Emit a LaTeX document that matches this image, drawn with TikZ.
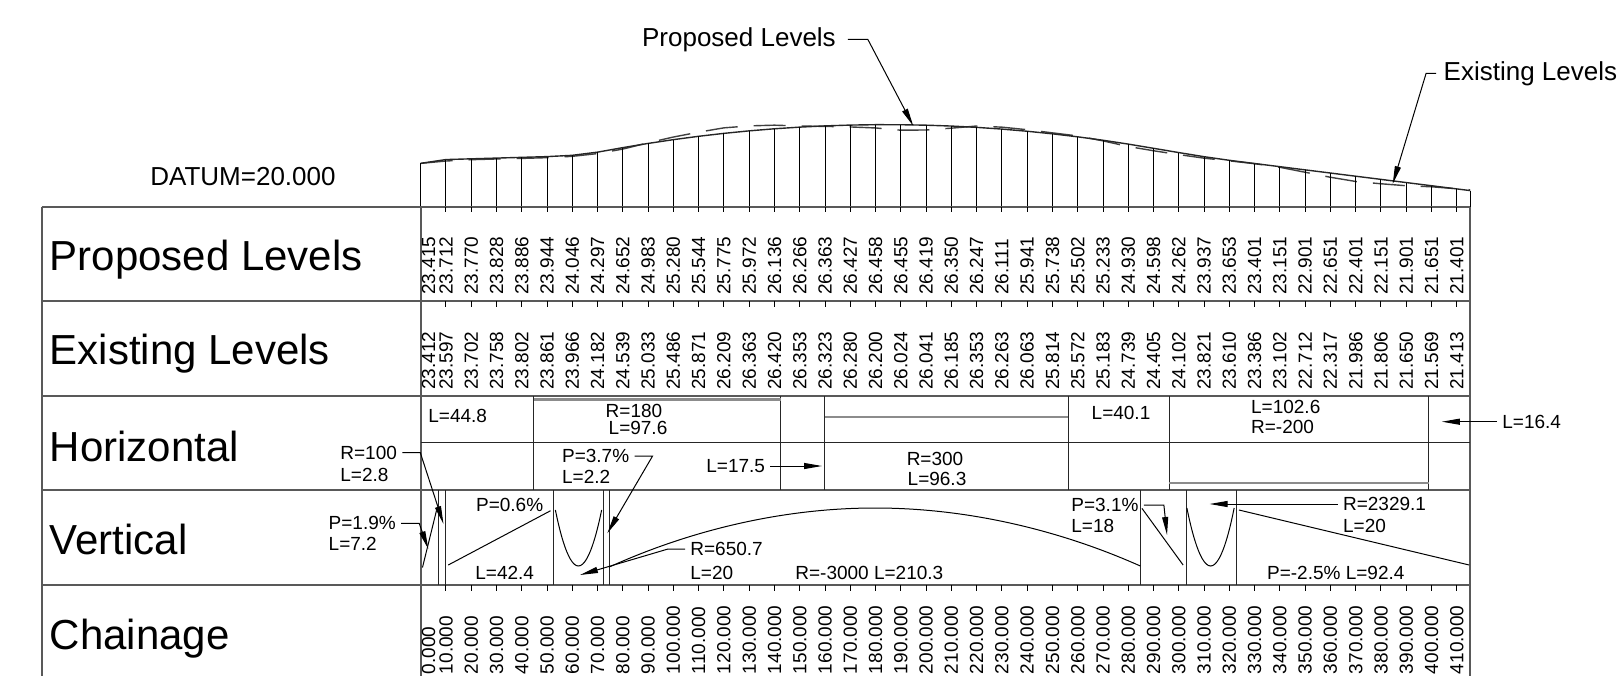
\documentclass[tikz,border=0pt]{standalone}
\usepackage{fontspec}
\setmainfont{Liberation Sans}
\usetikzlibrary{arrows.meta}

\def\proposedlist{23.415,23.712,23.770,23.828,23.886,23.944,24.046,24.297,24.652,24.983,25.280,25.544,25.775,25.972,26.136,26.266,26.363,26.427,26.458,26.455,26.419,26.350,26.247,26.111,25.941,25.738,25.502,25.233,24.930,24.598,24.262,23.937,23.653,23.401,23.151,22.901,22.651,22.401,22.151,21.901,21.651,21.401}
\def\existinglist{23.412,23.597,23.702,23.758,23.802,23.861,23.966,24.182,24.539,25.033,25.486,25.871,26.209,26.363,26.420,26.353,26.323,26.280,26.200,26.024,26.041,26.185,26.353,26.263,26.063,25.814,25.572,25.183,24.739,24.405,24.102,23.821,23.610,23.386,23.102,22.712,22.317,21.986,21.806,21.650,21.569,21.413}

\tikzset{
  band frame/.style={
    draw=black!65,
    line width=1pt,
  },
  band split/.style={
    draw=black!85,
    line width=0.5pt,
  },
  curve edge/.style={
    draw=black!45,
    line width=1.2pt,
  },
  profile line/.style={
    draw=black!85,
    line width=0.7pt,
  },
  ground line/.style={
    draw=black!75,
    line width=0.7pt,
    dash pattern=on 16pt off 8pt,
  },
  station line/.style={
    draw=black,
    line width=0.5pt,
  },
  band title/.style={
    font=\fontsize{21}{25}\selectfont,
    anchor=base west,
    inner sep=0pt
  },
  big note/.style={
    font=\fontsize{13}{15}\selectfont,
    inner sep=0pt
  },
  value text/.style={
    font=\fontsize{9.5}{11}\selectfont,
    rotate=90,
    anchor=west,
    inner sep=0pt
  },
  seg note/.style={
    font=\fontsize{9.5}{11}\selectfont,
    inner sep=0pt
  },
  leader/.style={
    draw,
    line width=0.5pt,
    -{Triangle[length=9pt,width=3pt]}
  },
}

\begin{document}
\begin{tikzpicture}[x=0.5pt, y=-0.5pt]
  \useasboundingbox (0,0) rectangle (1622,675);

  % long section above the datum
  \begin{scope}[shift={(420.7,206.7)}, x=1.2635pt, y=6.35pt, shift={(0,-20)}]
    \draw[ground line] (0,23.412)
      \foreach \lv [count=\i] in {23.597,23.702,23.758,23.802,23.861,23.966,24.182,24.539,25.033,25.486,25.871,26.209,26.363,26.420,26.353,26.323,26.280,26.200,26.024,26.041,26.185,26.353,26.263,26.063,25.814,25.572,25.183,24.739,24.405,24.102,23.821,23.610,23.386,23.102,22.712,22.317,21.986,21.806,21.650,21.569,21.413} { -- (10*\i,\lv) }
      -- (415.3,21.33);
    \draw[profile line] (0,23.415)
      \foreach \lv [count=\i] in {23.712,23.770,23.828,23.886,23.944,24.046,24.297,24.652,24.983,25.280,25.544,25.775,25.972,26.136,26.266,26.363,26.427,26.458,26.455,26.419,26.350,26.247,26.111,25.941,25.738,25.502,25.233,24.930,24.598,24.262,23.937,23.653,23.401,23.151,22.901,22.651,22.401,22.151,21.901,21.651,21.401} { -- (10*\i,\lv) }
      -- (415.3,21.27);
    \foreach \lv [count=\i from 0] in \proposedlist
      \draw[station line] (10*\i,20) -- (10*\i,\lv);
    \draw[station line] (415.3,20) -- (415.3,21.27);
  \end{scope}

  \node[big note] at (243,177) {DATUM=20.000};
  \node[big note, anchor=west] (tprop) at (641.7,39.3) {Proposed Levels};
  \node[big note, anchor=west] (texist) at (1443.3,73.3) {Existing Levels};
  \coordinate (tipprop) at (913.3,126);
  \coordinate (tipexist) at (1392.7,184);
  \draw[leader] ([xshift=5.8pt]tprop.east) -- ++(10pt,0) -- (tipprop);
  \draw[leader] ([xshift=-3.6pt]texist.west) -- ++(-5pt,0) -- (tipexist);

  % band table
  \foreach \yy in {206.7,301,396,490,585}
    \draw[band frame] (41.7,\yy) -- (1470.2,\yy);
  \draw[band frame] (41.7,206.7) -- (41.7,680);
  \draw[band frame] (420.7,206.7) -- (420.7,680);
  \draw[band frame] (1470.2,206.7) -- (1470.2,680);

  \node[band title] at (49.3,270.5) {Proposed Levels};
  \node[band title] at (49.3,364) {Existing Levels};
  \node[band title] at (49.3,461) {Horizontal};
  \node[band title] at (49.3,554) {Vertical};
  \node[band title] at (49.3,649) {Chainage};

  \begin{scope}[shift={(420.7,0)}, x=1.2635pt]
    \foreach \i in {1,...,41}
      \foreach \yy in {206.7,301,585}
        \draw[station line] (10*\i,\yy) -- ++(0,5.5);
    \foreach \lv [count=\i from 0] in \proposedlist {
      \pgfmathsetmacro\cx{\i==0 ? 3.1 : 10*\i}
      \node[value text] (prop\i) at (\cx,295) {\lv};
    }
    \foreach \lv [count=\i from 0] in \existinglist {
      \pgfmathsetmacro\cx{\i==0 ? 3.1 : 10*\i}
      \node[value text] (exist\i) at (\cx,390) {\lv};
    }
    \foreach \i in {0,...,41} {
      \pgfmathtruncatemacro\ch{10*\i}
      \pgfmathsetmacro\cx{\i==0 ? 3.1 : 10*\i}
      \node[value text] (chain\i) at (\cx,674.5) {\ch.000};
    }

    % horizontal alignment
    \draw[band split] (0,442.3) -- (415.3,442.3);
    \foreach \c in {44.8,142.4,159.9,256.2,296.3,398.9}
      \draw[band split] (\c,396) -- (\c,490);
    \draw[curve edge] (44.8,399.5) -- (142.4,399.5);
    \draw[curve edge] (159.9,416.7) -- (256.2,416.7);
    \draw[curve edge] (296.3,482.7) -- (398.9,482.7);

    % vertical alignment
    \foreach \c in {7.2,10,52.4,72.4,74.6,284.9,302.9,322.9}
      \draw[band split] (\c,490) -- (\c,585);
    \draw[station line] (0.7,567.5) -- (6.25,510.5);
    \draw[station line] (10.9,565) -- (51.4,510.7);
    \draw[station line] (53.3,510) parabola bend (62.4,566) (71.6,510);
    \draw[station line] (74.6,567) parabola bend (179.8,508) (284.8,566);
    \draw[station line] (285.4,508.3) -- (301.7,565);
    \draw[station line] (303.2,508) parabola bend (312.6,566) (321.9,508);
    \draw[station line] (323.8,510) -- (414.9,565);
  \end{scope}

  % horizontal labels
  \node[seg note, anchor=west] (h1) at (428,415.7) {L=44.8};
  \node[seg note] (h2r) at (634,410.7) {R=180};
  \node[seg note] (h2l) at (638,428.3) {L=97.6};
  \node[seg note, anchor=west] (h3) at (706,466) {L=17.5};
  \node[seg note] (h4r) at (935,459) {R=300};
  \node[seg note] (h4l) at (937,479) {L=96.3};
  \node[seg note] (h5) at (1121,413.3) {L=40.1};
  \node[seg note, anchor=west] (h6l) at (1250.7,407.3) {L=102.6};
  \node[seg note, anchor=west] (h6r) at (1250.7,426.7) {R=-200};
  \node[seg note, anchor=west] (h7) at (1502,421.7) {L=16.4};
  \coordinate (tiph3) at (822,466);
  \coordinate (tiph7) at (1441.8,421.7);
  \draw[leader] ([xshift=2.5pt]h3.east) -- (tiph3);
  \draw[leader] ([xshift=-2.5pt]h7.west) -- (tiph7);

  % vertical labels
  \node[seg note, anchor=west] (v1p) at (328.3,523.3) {P=1.9\%};
  \node[seg note, anchor=west] (v1l) at (328.3,544) {L=7.2};
  \node[seg note, anchor=west] (v2r) at (340,452.7) {R=100};
  \node[seg note, anchor=west] (v2l) at (340,475) {L=2.8};
  \node[seg note, anchor=west] (v3p) at (475.7,505) {P=0.6\%};
  \node[seg note, anchor=west] (v3l) at (475,572.7) {L=42.4};
  \node[seg note, anchor=west] (v4r) at (690,549) {R=650.7};
  \node[seg note, anchor=west] (v4l) at (690,572.7) {L=20};
  \node[seg note, anchor=west] (v5p) at (561.7,456) {P=3.7\%};
  \node[seg note, anchor=west] (v5l) at (561.7,476.7) {L=2.2};
  \node[seg note, anchor=west] (v6) at (795,572.7) {R=-3000 L=210.3};
  \node[seg note, anchor=west] (v7p) at (1071,505) {P=3.1\%};
  \node[seg note, anchor=west] (v7l) at (1071,525.7) {L=18};
  \node[seg note, anchor=west] (v8r) at (1342.7,504) {R=2329.1};
  \node[seg note, anchor=west] (v8l) at (1342.7,525.7) {L=20};
  \node[seg note, anchor=west] (v9) at (1266.7,572.7) {P=-2.5\% L=92.4};
  \coordinate (tipv1) at (428.3,549);
  \coordinate (tipv2) at (443.5,524);
  \coordinate (tipv4) at (580,575);
  \coordinate (tipv5) at (607.3,533.3);
  \coordinate (tipv7) at (1167,535);
  \coordinate (tipv8) at (1209.6,504);
  \draw[leader] ([xshift=2.5pt]v1p.east) -- ++(9pt,0) -- (tipv1);
  \draw[leader] ([xshift=2.5pt]v2r.east) -- ++(9pt,0) -- (tipv2);
  \draw[leader] ([xshift=-2.5pt]v4r.west) -- ++(-8.5pt,0) -- (tipv4);
  \draw[leader] ([xshift=2.5pt]v5p.east) -- ++(9pt,0) -- (tipv5);
  \draw[leader] ([xshift=2.5pt]v7p.east) -- ++(10pt,0) -- (tipv7);
  \draw[leader] ([xshift=-2.5pt]v8r.west) -- (tipv8);
\end{tikzpicture}
\end{document}
